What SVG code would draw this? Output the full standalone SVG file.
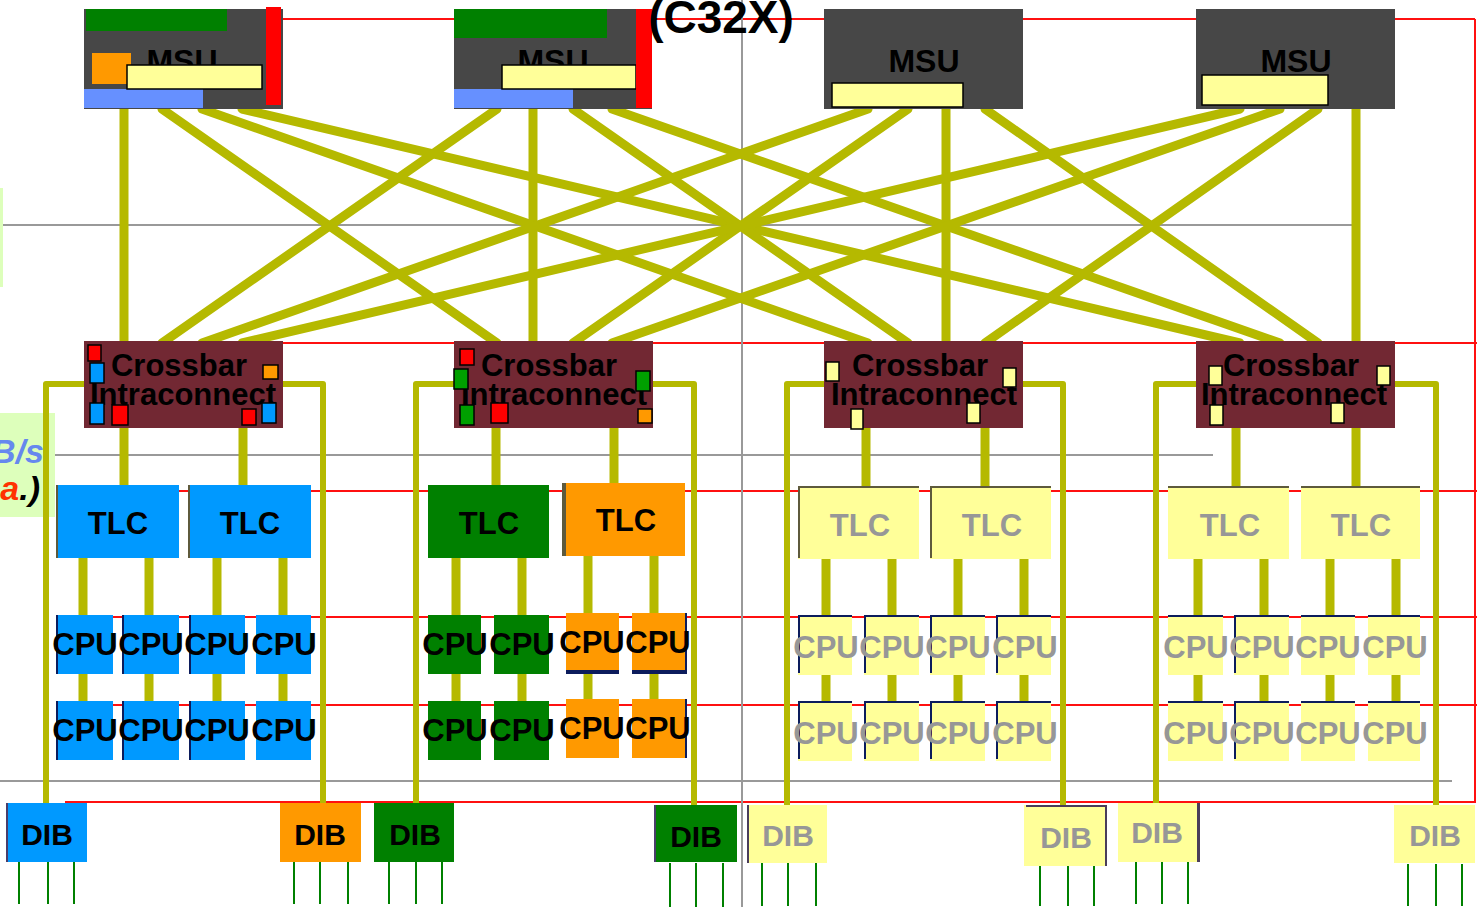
<svg xmlns="http://www.w3.org/2000/svg" width="1477" height="907" viewBox="0 0 1477 907">
<style>
.red{stroke:#ff1010;stroke-width:2;fill:none}
.gray{stroke:#999999;stroke-width:2;fill:none}
.olive{stroke:#b5b900;stroke-width:9;fill:none;stroke-linecap:round}
.stub{stroke:#b5b900;stroke-width:9;fill:none}
.bus{stroke:#b5b900;stroke-width:6;fill:none;stroke-linejoin:round}
.gl{stroke:#008000;stroke-width:2}
.msu{fill:#474747}
.xb{fill:#722833}
.sq{stroke:#000;stroke-width:1.5}
.ylw{fill:#ffff99}
.blue{fill:#0099ff}
.grn{fill:#008000}
.org{fill:#ff9900}
.edge{fill:#5e5a3c}
.navy{fill:#0c1c5c}
.t{font-family:"Liberation Sans",Arial,sans-serif;font-weight:bold;text-anchor:middle}
.tb{fill:#000}
.tg{fill:#979797}
.big{font-size:32px}
.mid{font-size:31px}
.dib{font-size:30px}
</style>

<!-- background grid lines -->
<g id="grid">
<line class="red" x1="283" y1="19" x2="1475" y2="19"/>
<line class="red" x1="1475" y1="19" x2="1475" y2="803"/>
<line class="red" x1="283" y1="343" x2="1477" y2="343"/>
<line class="red" x1="56" y1="491" x2="1477" y2="491"/>
<line class="red" x1="84" y1="617" x2="1477" y2="617"/>
<line class="red" x1="84" y1="705" x2="1477" y2="705"/>
<line class="red" x1="65" y1="802" x2="1475" y2="802"/>
<line class="gray" x1="742" y1="0" x2="742" y2="907"/>
<line class="gray" x1="0" y1="225" x2="1360" y2="225"/>
<line class="gray" x1="0" y1="455" x2="1213" y2="455"/>
<line class="gray" x1="0" y1="781" x2="1452" y2="781"/>
</g>

<!-- left label -->
<g id="label">
<rect x="0" y="188" width="3" height="99" fill="#ddffbb"/>
<rect x="0" y="413" width="55" height="104" fill="#ddffbb"/>
<text x="44" y="463" font-family="'Liberation Sans',Arial,sans-serif" font-weight="bold" font-style="italic" font-size="34" fill="#6688ee" text-anchor="end">B/s</text>
<text x="40" y="500" font-family="'Liberation Sans',Arial,sans-serif" font-weight="bold" font-style="italic" font-size="34" text-anchor="end"><tspan fill="#ff3300">a</tspan><tspan fill="#000">.)</tspan></text>
</g>

<!-- connectors -->
<g id="connectors">
<line class="olive" x1="124" y1="105" x2="124" y2="345"/>
<line class="olive" x1="162" y1="109" x2="497" y2="343"/>
<line class="olive" x1="202" y1="109" x2="868" y2="343"/>
<line class="olive" x1="242" y1="109" x2="1240" y2="343"/>
<line class="olive" x1="497" y1="109" x2="162" y2="343"/>
<line class="olive" x1="533" y1="105" x2="533" y2="345"/>
<line class="olive" x1="573" y1="109" x2="908" y2="343"/>
<line class="olive" x1="612" y1="109" x2="1280" y2="343"/>
<line class="olive" x1="868" y1="109" x2="202" y2="343"/>
<line class="olive" x1="908" y1="109" x2="573" y2="343"/>
<line class="olive" x1="946" y1="105" x2="946" y2="345"/>
<line class="olive" x1="985" y1="109" x2="1318" y2="343"/>
<line class="olive" x1="1240" y1="109" x2="242" y2="343"/>
<line class="olive" x1="1280" y1="109" x2="612" y2="343"/>
<line class="olive" x1="1318" y1="109" x2="985" y2="343"/>
<line class="olive" x1="1356" y1="105" x2="1356" y2="345"/>
<!-- buses -->
<polyline class="bus" points="46,803 46,384 86,384"/>
<polyline class="bus" points="281,384 323,384 323,803"/>
<polyline class="bus" points="416,803 416,384 456,384"/>
<polyline class="bus" points="651,384 694,384 694,805"/>
<polyline class="bus" points="787,805 787,384 826,384"/>
<polyline class="bus" points="1021,384 1063,384 1063,805"/>
<polyline class="bus" points="1156,803 1156,384 1198,384"/>
<polyline class="bus" points="1393,384 1436,384 1436,805"/>
<!-- crossbar to TLC -->
<line class="stub" x1="124" y1="426" x2="124" y2="488"/>
<line class="stub" x1="243" y1="426" x2="243" y2="488"/>
<line class="stub" x1="496" y1="426" x2="496" y2="488"/>
<line class="stub" x1="614" y1="426" x2="614" y2="486"/>
<line class="stub" x1="866" y1="426" x2="866" y2="488"/>
<line class="stub" x1="985" y1="426" x2="985" y2="488"/>
<line class="stub" x1="1236" y1="426" x2="1236" y2="488"/>
<line class="stub" x1="1356" y1="426" x2="1356" y2="488"/>
<!-- TLC to CPU -->
<g id="cpu-stubs">
<path class="stub" d="M83 556V703M149 556V703M217 556V703M283 556V703"/>
<path class="stub" d="M456 556V703M522 556V703M588 554V701M654 554V701"/>
<path class="stub" d="M826 556V703M892 556V703M958 556V703M1024 556V703"/>
<path class="stub" d="M1198 556V703M1264 556V703M1330 556V703M1396 556V703"/>
</g>
<!-- DIB outputs -->
<path class="gl" d="M19 862V904M48 862V904M74 862V904M294 862V904M320 862V904M348 862V904M389 862V904M416 862V904M442 862V904M670 863V907M696 863V907M723 863V907M762 863V906M788 863V906M816 863V906M1040 866V906M1068 866V906M1094 866V906M1136 862V904M1162 862V904M1188 862V904M1408 864V906M1436 864V906M1462 864V906"/>
</g>

<!-- MSUs -->
<g id="msu1">
<rect class="msu" x="84" y="9" width="199" height="100"/>
<rect class="grn" x="86" y="9" width="141" height="22"/>
<rect class="org" x="92" y="53" width="39" height="31"/>
<text class="t tb big" x="182" y="72">MSU</text>
<rect class="blue" x="84" y="89" width="119" height="19" fill="#6690ff" style="fill:#6690ff"/>
<rect class="ylw sq" x="127" y="65" width="135" height="24"/>
<rect x="266" y="7" width="15" height="98" fill="#ff0000"/>
</g>
<g id="msu2">
<rect class="msu" x="454" y="9" width="198" height="100"/>
<rect class="grn" x="454" y="9" width="153" height="29"/>
<text class="t tb big" x="553" y="72">MSU</text>
<rect x="454" y="89" width="119" height="19" style="fill:#6690ff"/>
<rect class="ylw sq" x="502" y="65" width="134" height="24"/>
<rect x="636" y="9" width="16" height="99" fill="#ff0000"/>
</g>
<text id="title" class="t tb" x="721" y="33" font-size="46">(C32X)</text>
<g id="msu3">
<rect class="msu" x="824" y="9" width="199" height="100"/>
<text class="t tb big" x="924" y="72">MSU</text>
<rect class="ylw sq" x="832" y="83" width="131" height="24"/>
</g>
<g id="msu4">
<rect class="msu" x="1196" y="9" width="199" height="100"/>
<text class="t tb big" x="1296" y="72">MSU</text>
<rect class="ylw sq" x="1202" y="75" width="126" height="30"/>
</g>

<!-- Crossbars -->
<g id="xbar1">
<rect class="xb" x="84" y="341" width="199" height="87"/>
<text class="t tb mid" x="179" y="376">Crossbar</text>
<text class="t tb mid" x="183" y="405">Intraconnect</text>
<rect class="sq" x="88" y="345" width="13" height="16" fill="#ff0000"/>
<rect class="sq blue" x="90" y="363" width="14" height="20"/>
<rect class="sq org" x="263" y="365" width="15" height="14"/>
<rect class="sq blue" x="90" y="403" width="14" height="21"/>
<rect class="sq" x="112" y="405" width="16" height="20" fill="#ff0000"/>
<rect class="sq" x="242" y="409" width="14" height="16" fill="#ff0000"/>
<rect class="sq blue" x="262" y="403" width="14" height="20"/>
</g>
<g id="xbar2">
<rect class="xb" x="454" y="341" width="199" height="87"/>
<text class="t tb mid" x="549" y="376">Crossbar</text>
<text class="t tb mid" x="554" y="405">Intraconnect</text>
<rect class="sq" x="460" y="349" width="14" height="16" fill="#ff0000"/>
<rect class="sq" x="454" y="369" width="14" height="20" fill="#00a000"/>
<rect class="sq" x="636" y="371" width="14" height="20" fill="#00a000"/>
<rect class="sq" x="460" y="405" width="14" height="20" fill="#00a000"/>
<rect class="sq" x="491" y="403" width="17" height="20" fill="#ff0000"/>
<rect class="sq org" x="638" y="409" width="14" height="14"/>
</g>
<g id="xbar3">
<rect class="xb" x="824" y="341" width="199" height="87"/>
<text class="t tb mid" x="920" y="376">Crossbar</text>
<text class="t tb mid" x="924" y="405">Intraconnect</text>
<rect class="sq ylw" x="826" y="362" width="13" height="19"/>
<rect class="sq ylw" x="1003" y="368" width="13" height="19"/>
<rect class="sq ylw" x="851" y="409" width="12" height="20"/>
<rect class="sq ylw" x="967" y="403" width="13" height="20"/>
</g>
<g id="xbar4">
<rect class="xb" x="1196" y="341" width="199" height="87"/>
<text class="t tb mid" x="1291" y="376">Crossbar</text>
<text class="t tb mid" x="1294" y="405">Intraconnect</text>
<rect class="sq ylw" x="1209" y="366" width="13" height="19"/>
<rect class="sq ylw" x="1377" y="366" width="13" height="19"/>
<rect class="sq ylw" x="1210" y="405" width="13" height="20"/>
<rect class="sq ylw" x="1331" y="403" width="13" height="20"/>
</g>

<!-- TLCs -->
<g id="tlc1a"><rect class="blue" x="56" y="485" width="123" height="73"/><rect class="edge" x="56" y="485" width="2" height="73"/><text class="t tb mid" x="118" y="534">TLC</text></g>
<g id="tlc1b"><rect class="blue" x="188" y="485" width="123" height="73"/><rect class="edge" x="188" y="485" width="2" height="73"/><text class="t tb mid" x="250" y="534">TLC</text></g>
<g id="tlc2a"><rect class="grn" x="428" y="485" width="121" height="73"/><text class="t tb mid" x="489" y="534">TLC</text></g>
<g id="tlc2b"><rect class="org" x="562" y="483" width="123" height="73"/><rect class="edge" x="562" y="483" width="4" height="73"/><text class="t tb mid" x="626" y="531">TLC</text></g>
<g id="tlc3a"><rect class="ylw" x="798" y="486" width="121" height="73"/><rect class="edge" x="798" y="486" width="121" height="2"/><rect class="edge" x="798" y="486" width="2" height="72"/><text class="t tg mid" x="860" y="536">TLC</text></g>
<g id="tlc3b"><rect class="ylw" x="930" y="486" width="121" height="73"/><rect class="edge" x="930" y="486" width="121" height="2"/><rect class="edge" x="930" y="486" width="2" height="72"/><text class="t tg mid" x="992" y="536">TLC</text></g>
<g id="tlc4a"><rect class="ylw" x="1168" y="486" width="121" height="73"/><rect class="edge" x="1168" y="486" width="121" height="2"/><text class="t tg mid" x="1230" y="536">TLC</text></g>
<g id="tlc4b"><rect class="ylw" x="1301" y="486" width="119" height="73"/><rect class="edge" x="1301" y="486" width="119" height="2"/><text class="t tg mid" x="1361" y="536">TLC</text></g>

<!-- CPUs group 1 -->
<g id="cpu1-1"><rect class="blue" x="56" y="615" width="57" height="59"/><rect class="navy" x="56" y="615" width="2" height="59"/><text class="t tb mid" x="85" y="655">CPU</text></g>
<g id="cpu1-2"><rect class="blue" x="122" y="615" width="57" height="59"/><rect class="navy" x="122" y="615" width="2" height="59"/><text class="t tb mid" x="151" y="655">CPU</text></g>
<g id="cpu1-3"><rect class="blue" x="189" y="615" width="56" height="59"/><rect class="navy" x="189" y="615" width="2" height="59"/><text class="t tb mid" x="217" y="655">CPU</text></g>
<g id="cpu1-4"><rect class="blue" x="256" y="615" width="55" height="59"/><text class="t tb mid" x="284" y="655">CPU</text></g>
<g id="cpu1-5"><rect class="blue" x="56" y="701" width="57" height="59"/><rect class="navy" x="56" y="701" width="2" height="59"/><text class="t tb mid" x="85" y="741">CPU</text></g>
<g id="cpu1-6"><rect class="blue" x="122" y="701" width="57" height="59"/><rect class="navy" x="122" y="701" width="2" height="59"/><text class="t tb mid" x="151" y="741">CPU</text></g>
<g id="cpu1-7"><rect class="blue" x="189" y="701" width="56" height="59"/><rect class="navy" x="189" y="701" width="2" height="59"/><text class="t tb mid" x="217" y="741">CPU</text></g>
<g id="cpu1-8"><rect class="blue" x="256" y="701" width="55" height="59"/><text class="t tb mid" x="284" y="741">CPU</text></g>

<!-- CPUs group 2 -->
<g id="cpu2-1"><rect class="grn" x="428" y="615" width="53" height="59"/><text class="t tb mid" x="455" y="655">CPU</text></g>
<g id="cpu2-2"><rect class="grn" x="494" y="615" width="55" height="59"/><text class="t tb mid" x="522" y="655">CPU</text></g>
<g id="cpu2-3"><rect class="org" x="566" y="613" width="53" height="61"/><rect class="navy" x="566" y="670" width="53" height="4"/><text class="t tb mid" x="592" y="653">CPU</text></g>
<g id="cpu2-4"><rect class="org" x="632" y="613" width="53" height="61"/><rect class="navy" x="632" y="670" width="55" height="4"/><rect class="navy" x="685" y="613" width="2" height="61"/><text class="t tb mid" x="658" y="653">CPU</text></g>
<g id="cpu2-5"><rect class="grn" x="428" y="701" width="53" height="59"/><text class="t tb mid" x="455" y="741">CPU</text></g>
<g id="cpu2-6"><rect class="grn" x="494" y="701" width="55" height="59"/><text class="t tb mid" x="522" y="741">CPU</text></g>
<g id="cpu2-7"><rect class="org" x="566" y="699" width="53" height="59"/><text class="t tb mid" x="592" y="739">CPU</text></g>
<g id="cpu2-8"><rect class="org" x="632" y="699" width="53" height="59"/><rect class="navy" x="685" y="699" width="2" height="59"/><text class="t tb mid" x="658" y="739">CPU</text></g>

<!-- CPUs group 3 -->
<g id="cpu3-1"><rect class="ylw" x="798" y="615" width="54" height="60"/><rect class="navy" x="798" y="615" width="54" height="2"/><rect class="navy" x="798" y="615" width="2" height="58"/><text class="t tg mid" x="826" y="658">CPU</text></g>
<g id="cpu3-2"><rect class="ylw" x="864" y="615" width="55" height="60"/><rect class="navy" x="864" y="615" width="55" height="2"/><rect class="navy" x="864" y="615" width="2" height="58"/><text class="t tg mid" x="892" y="658">CPU</text></g>
<g id="cpu3-3"><rect class="ylw" x="930" y="615" width="55" height="60"/><rect class="navy" x="930" y="615" width="55" height="2"/><rect class="navy" x="930" y="615" width="2" height="58"/><text class="t tg mid" x="958" y="658">CPU</text></g>
<g id="cpu3-4"><rect class="ylw" x="996" y="615" width="55" height="60"/><rect class="navy" x="996" y="615" width="55" height="2"/><rect class="navy" x="996" y="615" width="2" height="58"/><text class="t tg mid" x="1025" y="658">CPU</text></g>
<g id="cpu3-5"><rect class="ylw" x="798" y="701" width="54" height="60"/><rect class="navy" x="798" y="701" width="54" height="2"/><rect class="navy" x="798" y="701" width="2" height="58"/><text class="t tg mid" x="826" y="744">CPU</text></g>
<g id="cpu3-6"><rect class="ylw" x="864" y="701" width="55" height="60"/><rect class="navy" x="864" y="701" width="55" height="2"/><rect class="navy" x="864" y="701" width="2" height="58"/><text class="t tg mid" x="892" y="744">CPU</text></g>
<g id="cpu3-7"><rect class="ylw" x="930" y="701" width="55" height="60"/><rect class="navy" x="930" y="701" width="55" height="2"/><rect class="navy" x="930" y="701" width="2" height="58"/><text class="t tg mid" x="958" y="744">CPU</text></g>
<g id="cpu3-8"><rect class="ylw" x="996" y="701" width="55" height="60"/><rect class="navy" x="996" y="701" width="55" height="2"/><rect class="navy" x="996" y="701" width="2" height="58"/><text class="t tg mid" x="1025" y="744">CPU</text></g>

<!-- CPUs group 4 -->
<g id="cpu4-1"><rect class="ylw" x="1168" y="615" width="55" height="60"/><rect class="navy" x="1168" y="615" width="55" height="2"/><text class="t tg mid" x="1196" y="658">CPU</text></g>
<g id="cpu4-2"><rect class="ylw" x="1234" y="615" width="55" height="60"/><rect class="navy" x="1234" y="615" width="55" height="2"/><rect class="navy" x="1234" y="615" width="2" height="58"/><text class="t tg mid" x="1262" y="658">CPU</text></g>
<g id="cpu4-3"><rect class="ylw" x="1301" y="615" width="54" height="60"/><rect class="navy" x="1301" y="615" width="54" height="2"/><text class="t tg mid" x="1328" y="658">CPU</text></g>
<g id="cpu4-4"><rect class="ylw" x="1368" y="615" width="52" height="60"/><rect class="navy" x="1368" y="615" width="52" height="2"/><text class="t tg mid" x="1395" y="658">CPU</text></g>
<g id="cpu4-5"><rect class="ylw" x="1168" y="701" width="55" height="60"/><rect class="navy" x="1168" y="701" width="55" height="2"/><text class="t tg mid" x="1196" y="744">CPU</text></g>
<g id="cpu4-6"><rect class="ylw" x="1234" y="701" width="55" height="60"/><rect class="navy" x="1234" y="701" width="55" height="2"/><rect class="navy" x="1234" y="701" width="2" height="58"/><text class="t tg mid" x="1262" y="744">CPU</text></g>
<g id="cpu4-7"><rect class="ylw" x="1301" y="701" width="54" height="60"/><rect class="navy" x="1301" y="701" width="54" height="2"/><text class="t tg mid" x="1328" y="744">CPU</text></g>
<g id="cpu4-8"><rect class="ylw" x="1368" y="701" width="52" height="60"/><rect class="navy" x="1368" y="701" width="52" height="2"/><text class="t tg mid" x="1395" y="744">CPU</text></g>

<!-- DIBs -->
<g id="dib1"><rect class="blue" x="6" y="803" width="81" height="59"/><rect x="6" y="803" width="2" height="59" fill="#4a3d6a"/><text class="t tb dib" x="47" y="845">DIB</text></g>
<g id="dib2"><rect class="org" x="280" y="803" width="81" height="59"/><text class="t tb dib" x="320" y="845">DIB</text></g>
<g id="dib3"><rect class="grn" x="374" y="803" width="80" height="59"/><text class="t tb dib" x="415" y="845">DIB</text></g>
<g id="dib4"><rect class="grn" x="654" y="805" width="83" height="57"/><rect x="654" y="805" width="2" height="57" fill="#4a3d6a"/><text class="t tb dib" x="696" y="847">DIB</text></g>
<g id="dib5"><rect class="ylw" x="747" y="805" width="80" height="58"/><rect x="747" y="805" width="2" height="58" fill="#4a3d5a"/><text class="t tg dib" x="788" y="846">DIB</text></g>
<g id="dib6"><rect class="ylw" x="1024" y="805" width="82" height="61"/><rect x="1026" y="805" width="81" height="2" fill="#4a3d5a"/><rect x="1105" y="805" width="2" height="61" fill="#4a3d5a"/><text class="t tg dib" x="1066" y="848">DIB</text></g>
<g id="dib7"><rect class="ylw" x="1118" y="803" width="79" height="59"/><rect x="1197" y="803" width="3" height="59" fill="#4a3d5a"/><text class="t tg dib" x="1157" y="843">DIB</text></g>
<g id="dib8"><rect class="ylw" x="1394" y="805" width="81" height="58"/><text class="t tg dib" x="1435" y="846">DIB</text></g>
</svg>
